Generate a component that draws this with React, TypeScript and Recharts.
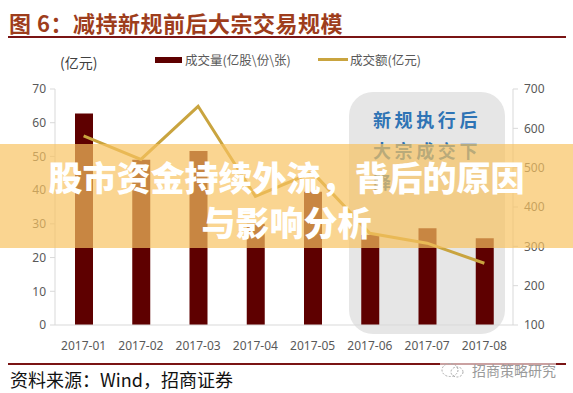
import React from 'react';
import { ComposedChart, Bar, Line, XAxis, YAxis } from 'recharts';

const months = ['2017-01', '2017-02', '2017-03', '2017-04', '2017-05', '2017-06', '2017-07', '2017-08'];
const volume = [62.7, 49, 51.6, 30, 39.5, 26.7, 28.7, 25.7];
const amount = [581, 521, 656, 427, 488, 333, 308, 257];
const leftTicks = [0, 10, 20, 30, 40, 50, 60, 70];
const rightTicks = [100, 200, 300, 400, 500, 600, 700];
const boxLines = ['新规执行后', '大宗成交下', '降'];
const bannerLines = ['股市资金持续外流，背后的原因', '与影响分析'];

const data = months.map((m, i) => ({ month: m, volume: volume[i], amount: amount[i] }));

const CJK = '"Noto Sans CJK SC", "Noto Sans", sans-serif';
const tickStyle = { fill: '#595959', fontSize: 12, fontFamily: '"Noto Sans", "Noto Sans CJK SC", sans-serif' };

export default function App() {
  return (
    <div style={{ position: 'fixed', left: 0, top: 0, width: 573, height: 393, background: '#fff', overflow: 'hidden', fontFamily: CJK }}>
      {/* title */}
      <div style={{ position: 'absolute', left: 9, top: 8, fontSize: 22, fontWeight: 700, color: '#9e3d1c', letterSpacing: 0.5, whiteSpace: 'nowrap', lineHeight: '28px' }}>
        图 6：减持新规前后大宗交易规模
      </div>
      <div style={{ position: 'absolute', left: 8, top: 36, width: 558, height: 2, background: '#7a1414' }} />

      {/* grey highlight box */}
      <div style={{ position: 'absolute', left: 349, top: 92, width: 156, height: 242, background: '#e6e6e6', borderRadius: 24 }}>
        {boxLines.map((t, i) => (
          <div key={i} style={{ position: 'absolute', left: 24, top: 18 + i * 31, fontSize: 18, fontWeight: 700, color: '#2e74b5', letterSpacing: 3.6, whiteSpace: 'nowrap', lineHeight: '19px' }}>
            {t}
          </div>
        ))}
      </div>

      {/* chart */}
      <div style={{ position: 'absolute', left: 0, top: 0 }}>
        <ComposedChart width={573} height={393} data={data} margin={{ top: 89, right: 0, bottom: 38, left: 0 }} barCategoryGap={0}>
          <XAxis dataKey="month" tick={tickStyle} tickLine={false} axisLine={{ stroke: '#d9d9d9' }} height={30} tickMargin={10} interval={0} />
          <YAxis yAxisId="left" domain={[0, 70]} ticks={leftTicks} width={55} tick={tickStyle} axisLine={{ stroke: '#d9d9d9' }} tickLine={{ stroke: '#d9d9d9' }} tickSize={5} tickMargin={4} interval={0} />
          <YAxis yAxisId="right" orientation="right" domain={[100, 700]} ticks={rightTicks} width={60} tick={tickStyle} axisLine={{ stroke: '#d9d9d9' }} tickLine={{ stroke: '#d9d9d9' }} tickSize={5} tickMargin={6} interval={0} />
          <Bar yAxisId="left" dataKey="volume" fill="#5e0000" barSize={18} isAnimationActive={false} />
          <Line yAxisId="right" dataKey="amount" stroke="#c9a43f" strokeWidth={3} dot={false} isAnimationActive={false} />
        </ComposedChart>
      </div>

      {/* unit label */}
      <div style={{ position: 'absolute', left: 60, top: 52, fontSize: 14, color: '#404040', lineHeight: '20px' }}>(亿元)</div>

      {/* legend */}
      <div style={{ position: 'absolute', left: 155, top: 57, width: 27, height: 6, background: '#5e0000' }} />
      <div style={{ position: 'absolute', left: 185, top: 51, fontSize: 12.5, color: '#595959', lineHeight: '18px', whiteSpace: 'nowrap' }}>成交量(亿股\份\张)</div>
      <div style={{ position: 'absolute', left: 318, top: 58, width: 30, height: 3, background: '#c9a43f' }} />
      <div style={{ position: 'absolute', left: 350, top: 51, fontSize: 12.5, color: '#595959', lineHeight: '18px', whiteSpace: 'nowrap' }}>成交额(亿元)</div>

      {/* overlay banner */}
      <div style={{ position: 'absolute', left: 0, top: 144, width: 573, height: 104, background: 'rgba(248,194,95,0.69)' }} />
      {bannerLines.map((t, i) => (
        <div key={i} style={{ position: 'absolute', left: 0, top: 159 + i * 45, width: 573, textAlign: 'center', fontSize: 34, fontWeight: 900, color: '#ffffff', lineHeight: '35px', whiteSpace: 'nowrap' }}>
          {t}
        </div>
      ))}

      {/* footer */}
      <div style={{ position: 'absolute', left: 8, top: 363, width: 558, height: 2, background: '#7a1414' }} />
      <div style={{ position: 'absolute', left: 10, top: 367, fontSize: 18, color: '#111', lineHeight: '24px', whiteSpace: 'nowrap' }}>资料来源：Wind，招商证券</div>
      <div style={{ position: 'absolute', left: 440, top: 360, display: 'flex', alignItems: 'center', background: 'rgba(255,255,255,0.6)' }}>
        <svg width={26} height={18}>
          <ellipse cx={10} cy={9} rx={8} ry={6.5} fill="none" stroke="#aaa" strokeWidth={1} strokeDasharray="2 1.5" />
          <ellipse cx={17} cy={11} rx={6} ry={5} fill="none" stroke="#aaa" strokeWidth={1} strokeDasharray="2 1.5" />
        </svg>
        <span style={{ fontSize: 14, color: '#9a9a9a', marginLeft: 6, whiteSpace: 'nowrap' }}>招商策略研究</span>
      </div>
    </div>
  );
}
